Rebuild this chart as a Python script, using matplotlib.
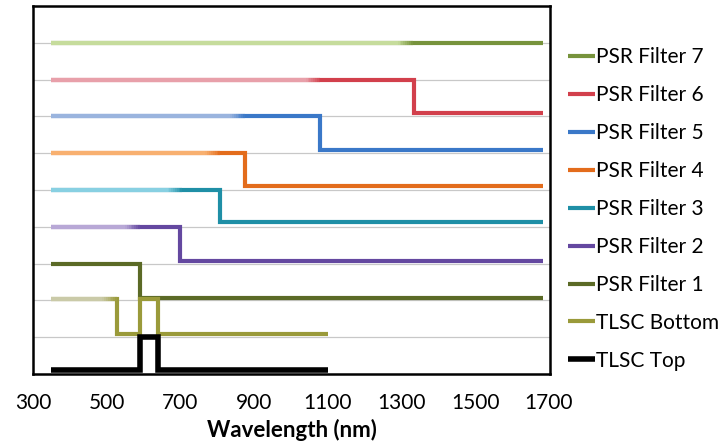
import matplotlib
matplotlib.use("Agg")
import matplotlib.pyplot as plt
import numpy as np
from matplotlib.colors import to_rgb

plt.rcParams['font.family'] = ['Lato', 'DejaVu Sans']

# ---- data ----
series_names = ["PSR Filter 7", "PSR Filter 6", "PSR Filter 5", "PSR Filter 4",
                "PSR Filter 3", "PSR Filter 2", "PSR Filter 1", "TLSC Bottom", "TLSC Top"]

f7_x = [350, 1685]; f7_y = [9, 9]
f6_x = [350, 1335, 1685]; f6_y = [8, 7.1, 7.1]
f5_x = [350, 1080, 1685]; f5_y = [7, 6.1, 6.1]
f4_x = [350, 875, 1685]; f4_y = [6, 5.1, 5.1]
f3_x = [350, 808, 1685]; f3_y = [5, 4.12, 4.12]
f2_x = [350, 700, 1685]; f2_y = [4, 3.07, 3.07]
f1_x = [350, 590, 1685]; f1_y = [3, 2.07, 2.07]
tb_x = [350, 528, 590, 640, 1100]; tb_y = [2.03, 1.1, 2.05, 1.1, 1.1]
tt_x = [350, 590, 640, 1100]; tt_y = [0.1, 1.0, 0.1, 0.1]

series_x = [f7_x, f6_x, f5_x, f4_x, f3_x, f2_x, f1_x, tb_x, tt_x]
series_y = [f7_y, f6_y, f5_y, f4_y, f3_y, f2_y, f1_y, tb_y, tt_y]

# where the faded (lighter) part of each line ends
fade_end = [1330, 1080, 875, 808, 705, 590, None, 528, None]

dark_colors = ["#77933c", "#d2404c", "#3a78c8", "#e36c1c", "#1f8fa6",
               "#6448a0", "#5b6a26", "#9a9a3a", "#000000"]
light_colors = ["#c6dc9c", "#e8a0aa", "#9ab4de", "#f8b070", "#88d0e2",
                "#b8a8d6", None, "#cacaa8", None]

xticks = [300, 500, 700, 900, 1100, 1300, 1500, 1700]

# ---- figure ----
fig = plt.figure(figsize=(7.22, 4.44), dpi=100)
ax = fig.add_axes([33/722, 1-374/444, (550-33)/722, (374-6)/444])

ax.set_xlim(300, 1703)
ax.set_ylim(0, 10)
for yy in range(1, 10):
    ax.axhline(yy, color="#c8c8c8", lw=0.9, zorder=0)

lw = 3.0
handles = []
for i in range(len(series_names)):
    x = series_x[i]; y = series_y[i]
    px = [x[0]]; py = [y[0]]
    for j in range(1, len(x)):
        px += [x[j], x[j]]
        py += [py[-1], y[j]]
    lwi = 4.0 if series_names[i] == "TLSC Top" else lw
    h, = ax.plot(px, py, color=dark_colors[i], lw=lwi, solid_joinstyle='miter',
                 solid_capstyle='butt', label=series_names[i], zorder=3 + i * 0.01)
    handles.append(h)
    if fade_end[i] is not None:
        c0 = np.array(to_rgb(light_colors[i])); c1 = np.array(to_rgb(dark_colors[i]))
        fe = fade_end[i]
        ax.plot([x[0], fe - 40], [y[0], y[0]], color=light_colors[i], lw=lwi,
                solid_capstyle='butt', zorder=3.5 + i * 0.01)
        n = 8
        edges = np.linspace(fe - 40, fe, n + 1)
        for k in range(n):
            t = (k + 0.5) / n
            ax.plot([edges[k], edges[k + 1]], [y[0], y[0]], color=tuple(c0 * (1 - t) + c1 * t),
                    lw=lwi, solid_capstyle='butt', zorder=3.5 + i * 0.01)

ax.set_xticks(xticks)
ax.set_xticklabels([str(t) for t in xticks], fontsize=15)
ax.tick_params(axis='x', length=0, pad=14)
ax.set_yticks([])
for s in ax.spines.values():
    s.set_color("black"); s.set_linewidth(1.8)
ax.set_xlabel("Wavelength (nm)", fontsize=16, fontweight='bold', labelpad=4)

leg = fig.legend(handles=handles, labels=series_names, loc='upper left',
                 bbox_to_anchor=(560/722, 1-39/444), frameon=False, fontsize=15,
                 handlelength=1.3, handletextpad=0.05, labelspacing=0.86, borderaxespad=0)

fig.savefig("out.png", dpi=100)
